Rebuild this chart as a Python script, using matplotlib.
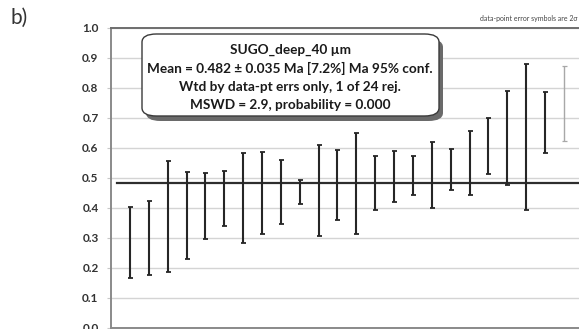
import matplotlib
matplotlib.use("Agg")
import matplotlib.pyplot as plt
from matplotlib.patches import FancyBboxPatch
import numpy as np

# ---- data ----
analysis = list(range(1, 25))
err_low = [0.166, 0.174, 0.184, 0.230, 0.294, 0.340, 0.283, 0.313, 0.347, 0.412,
           0.306, 0.360, 0.312, 0.393, 0.418, 0.441, 0.399, 0.460, 0.441, 0.514,
           0.475, 0.391, 0.584, 0.624]
err_high = [0.403, 0.422, 0.556, 0.519, 0.517, 0.523, 0.584, 0.587, 0.558, 0.494,
            0.610, 0.594, 0.650, 0.573, 0.590, 0.572, 0.620, 0.595, 0.655, 0.700,
            0.791, 0.879, 0.787, 0.873]
rejected = [24]
mean_age = 0.482
y_ticks = [0.0, 0.1, 0.2, 0.3, 0.4, 0.5, 0.6, 0.7, 0.8, 0.9, 1.0]
box_lines = ["SUGO_deep_40 µm",
             "Mean = 0.482 ± 0.035 Ma [7.2%] Ma 95% conf.",
             "Wtd by data-pt errs only, 1 of 24 rej.",
             "MSWD = 2.9, probability = 0.000"]

plt.rcParams['font.family'] = ['Lato', 'DejaVu Sans']

W, H = 579, 329
fig = plt.figure(figsize=(W / 100, H / 100), dpi=100)

def fx(px):
    return px / W

def fy(py):
    return 1 - py / H

ax = fig.add_axes([fx(111.1), fy(327.5), (582.7 - 111.1) / W, (327.5 - 28) / H])
ax.set_xlim(0, 25)
ax.set_ylim(0, 1.0)

lo = np.array(err_low)
hi = np.array(err_high)
x = np.array(analysis)
mid = (lo + hi) / 2
half = (hi - lo) / 2
acc = np.array([a not in rejected for a in analysis])

ax.errorbar(x[acc], mid[acc], yerr=half[acc], fmt='none', ecolor='#262626',
            elinewidth=1.5, capsize=1.8, capthick=1.3, zorder=3)
ax.errorbar(x[~acc], mid[~acc], yerr=half[~acc], fmt='none', ecolor='#a8a8a8',
            elinewidth=1.0, capsize=1.8, capthick=0.9, zorder=3)

ax.plot([0.3, 25], [mean_age, mean_age], color='#2e2e2e', lw=1.6, zorder=2)

ax.set_yticks(y_ticks)
ax.set_yticklabels([f"{v:.1f}" for v in y_ticks], fontweight='bold', color='#333333', fontsize=8.5)
ax.set_xticks([])
ax.yaxis.grid(True, color='#d4d4d4', lw=1.0)
ax.set_axisbelow(True)
ax.tick_params(axis='y', length=3, color='#c8c8c8', pad=6)

for side in ['left', 'bottom']:
    ax.spines[side].set_color('#8a8a8a')
    ax.spines[side].set_linewidth(1.4)
ax.spines['top'].set_color('#6e6e6e')
ax.spines['top'].set_linewidth(1.4)
ax.spines['right'].set_visible(False)

# text box with shadow
bx0, by0, bx1, by1 = 142, 34, 439, 116
shadow = FancyBboxPatch((fx(bx0 + 4), fy(by1 + 5)), fx(bx1 - bx0), (by1 - by0) / H,
                        boxstyle="round,pad=0,rounding_size=0.025",
                        transform=fig.transFigure, facecolor='#6a6a6a',
                        edgecolor='none', zorder=5)
box = FancyBboxPatch((fx(bx0), fy(by1)), fx(bx1 - bx0), (by1 - by0) / H,
                     boxstyle="round,pad=0,rounding_size=0.025",
                     transform=fig.transFigure, facecolor='white',
                     edgecolor='#3a3a3a', lw=1.0, zorder=6)
fig.patches.extend([shadow, box])

line_y = [50, 68.5, 87, 105.5]
for txt, yy in zip(box_lines, line_y):
    fig.text(fx(290), fy(yy), txt, ha='center', va='center', fontsize=9.8,
             fontweight='bold', color='#1a1a1a', zorder=7)

fig.text(fx(10), fy(18), "b)", ha='left', va='center', fontsize=15, color='#333333')
fig.text(fx(577), fy(18), "data-point error symbols are 2σ", ha='right', va='center',
         fontsize=5, color='#444444')

fig.savefig("out.png", dpi=100)
